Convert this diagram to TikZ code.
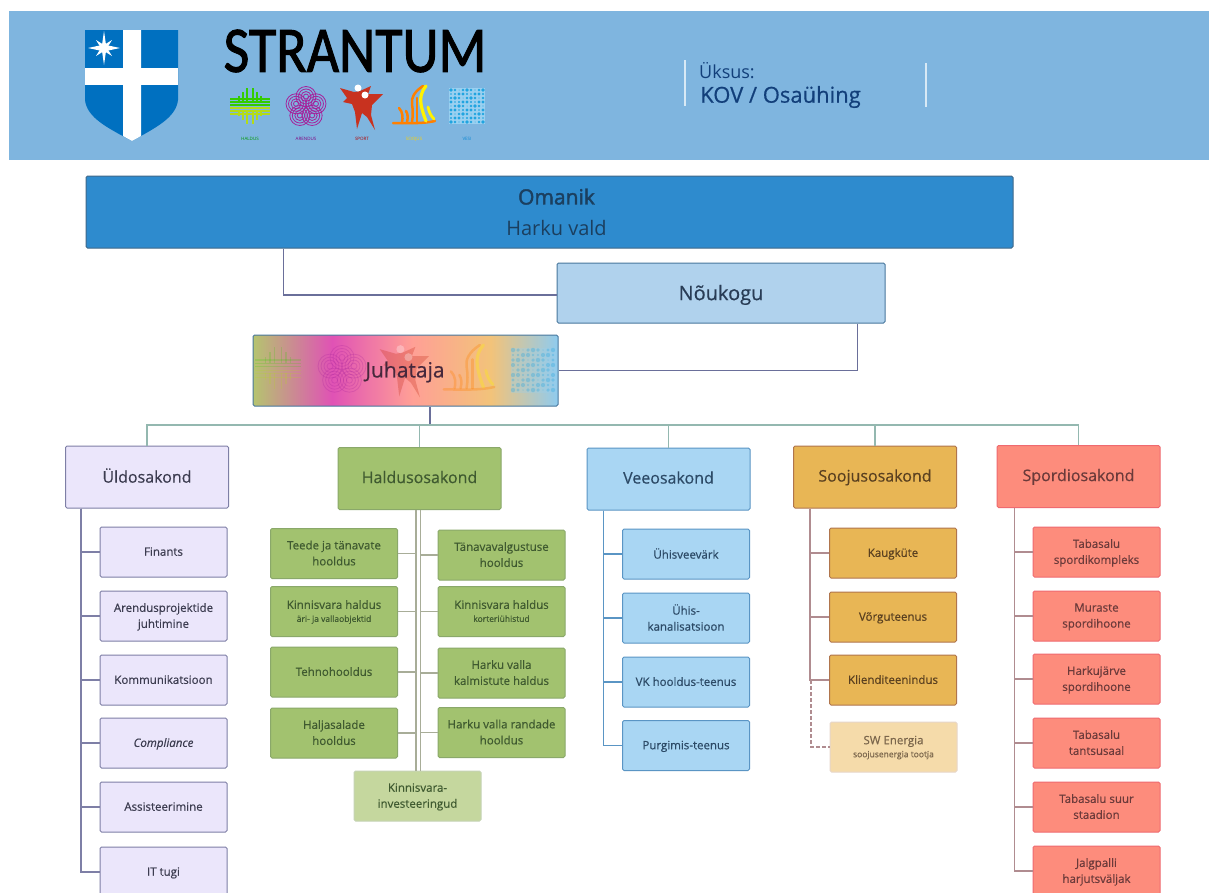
\documentclass[tikz,border=0pt]{standalone}
\usepackage{fontspec}
\setmainfont{Open Sans}[FakeBold=0.5]
\newfontfamily\plainfont{Open Sans}
\newfontfamily\raskfont{Open Sans}[FakeBold=2]
\newfontfamily\logofont{Carlito}[FakeBold=1.6]
\usepackage{tikz}
\usetikzlibrary{calc,positioning}
\usepackage{xcolor}

\definecolor{bannervarv}{HTML}{7FB5DF}
\definecolor{kilpvarv}{HTML}{0070C0}
\definecolor{uksusvarv}{HTML}{123F7A}
\definecolor{juhtgreen}{HTML}{B5C46F}
\definecolor{juhtpink}{HTML}{E052B5}
\definecolor{juhtsalmon}{HTML}{FF9F96}
\definecolor{juhtgold}{HTML}{F2C37A}
\definecolor{juhtblue}{HTML}{8FCBEF}
\pgfdeclarehorizontalshading{juhatajavarv}{100bp}{
    color(0bp)=(juhtgreen); color(25bp)=(juhtgreen); color(38bp)=(juhtpink);
    color(51bp)=(juhtsalmon); color(64bp)=(juhtgold); color(75bp)=(juhtblue);
    color(100bp)=(juhtblue)}

\definecolor{yld}{HTML}{EBE6FB}
\definecolor{yldjoon}{HTML}{7E7FA6}
\definecolor{yldtekst}{HTML}{3C3C50}
\definecolor{hald}{HTML}{A2C26F}
\definecolor{haldjoon}{HTML}{8AA86A}
\definecolor{haldtekst}{HTML}{3F5A30}
\definecolor{haldliin}{HTML}{A8AD98}
\definecolor{vesi}{HTML}{A9D6F3}
\definecolor{veejoon}{HTML}{5A95C4}
\definecolor{veetekst}{HTML}{2C4A66}
\definecolor{sooj}{HTML}{E8B655}
\definecolor{soojjoon}{HTML}{B0754D}
\definecolor{soojtekst}{HTML}{5A4020}
\definecolor{spor}{HTML}{FD8C7C}
\definecolor{sporjoon}{HTML}{EF6A70}
\definecolor{sportekst}{HTML}{6B3A3A}
\definecolor{liinvarv}{HTML}{6A6F9A}
\definecolor{roosaliin}{HTML}{B08C90}
\definecolor{busvarv}{HTML}{94B8B0}
\definecolor{omanikvarv}{HTML}{2E8BCE}
\definecolor{omaniktekst}{HTML}{1B3F5F}
\definecolor{noukoguvarv}{HTML}{B0D2ED}
\definecolor{noukogutekst}{HTML}{283C55}
\definecolor{investvarv}{HTML}{C5D79E}
\definecolor{swvarv}{HTML}{F5DBAA}

\tikzset{
    x=1pt, y=-1pt,
    kast/.style={draw, rounded corners=1.5pt, line width=1pt, align=center, inner sep=0pt, text depth=1pt, font=\fontsize{11.5}{16}\selectfont},
    osakond/.style={kast, text depth=3pt, minimum width=163pt, minimum height=62pt, font=\fontsize{16}{20}\selectfont},
    alam/.style={kast, minimum width=127pt, minimum height=50pt},
    yldvarv/.style={fill=yld, draw=yldjoon, text=yldtekst},
    haldvarv/.style={fill=hald, draw=haldjoon, text=haldtekst},
    veevarv/.style={fill=vesi, draw=veejoon, text=veetekst},
    soojvarv/.style={fill=sooj, draw=soojjoon, text=soojtekst},
    sporvarv/.style={fill=spor, draw=sporjoon, text=sportekst},
    liin/.style={line width=1.2pt, draw=liinvarv},
    haruliin/.style={line width=1.6pt, draw=haldliin},
    roosa/.style={line width=1.2pt, draw=roosaliin},
}
\newcommand{\alla}{\fontsize{8.5}{10}\selectfont}

% Logo pictures, drawn around their own centre
\newcommand{\iconhaldus}[1]{
    \begin{scope}[#1, line width=1.2pt]
        \foreach \a in {3,7,11} {
            \draw[green!60!olive] (-\a,-4) -- (-\a,-21+\a);
            \draw[green!60!olive] (\a,-4) -- (\a,-21+\a);
            \draw[yellow!70!green] (-\a,4) -- (-\a,21-\a);
            \draw[yellow!70!green] (\a,4) -- (\a,21-\a);
        }
        \foreach \a in {1,4,7} {
            \draw[green!60!olive] (-20,-\a) -- (20,-\a);
            \draw[yellow!70!green] (-20,\a+1) -- (20,\a+1);
        }
    \end{scope}
}
\definecolor{lillvarv}{HTML}{A5229B}
\newcommand{\iconareng}[1]{
    \begin{scope}[#1, line width=0.8pt]
        \foreach \a in {-90,-18,54,126,198} {
            \foreach \r in {2.5,5,7.5,10} {
                \draw[lillvarv] (\a:10.5) circle (\r);
            }
        }
    \end{scope}
}
\definecolor{sportvarv}{HTML}{C8321F}
\newcommand{\iconsport}[1]{
    \begin{scope}[#1]
        \fill[sportvarv] (-22,-19) -- (-8,-15) -- (-2,-16) -- (9,-21) -- (6,-13) -- (21,-13) -- (10,-2) -- (9,8) -- (13,23) -- (5,10) -- (0,6) -- (-5,22) -- (-7,5) -- (-10,-3) -- (-19,-5) -- (-15,-9) -- cycle;
        \fill[white] (-4,-19) circle (3.5) (3,-12) circle (3.5);
    \end{scope}
}
\newcommand{\iconsoojus}[1]{
    \begin{scope}[#1, line cap=round]
        \draw[orange, line width=2.5pt] (-21,17) .. controls (-8,17) and (8,18) .. (21,15);
        \draw[orange, line width=2.5pt] (-15,2) .. controls (-11,6) and (-11,12) .. (-12,16);
        \draw[orange, line width=2.5pt] (-8,5) .. controls (-6,8) and (-6,12) .. (-7,16);
        \draw[orange, line width=2.5pt] (9,-20) .. controls (0,-14) and (-3,-8) .. (-2,-2) .. controls (-1,4) and (-1,10) .. (-2,16);
        \draw[orange, line width=2.5pt] (3,-8) -- (3,16);
        \draw[yellow, line width=3.2pt] (12,-20) .. controls (7,-14) and (6,-8) .. (7,-2) .. controls (8,4) and (10,10) .. (12,15);
        \draw[yellow, line width=2.8pt] (14,1) .. controls (15,6) and (17,10) .. (20,13);
    \end{scope}
}
\definecolor{piskvarv}{HTML}{9AD0F0}
\definecolor{tilkvarv}{HTML}{20A4E0}
\newcommand{\iconvesi}[1]{
    \begin{scope}[#1]
        \fill[piskvarv] (-18,-18) rectangle (18,18);
        \foreach \i in {-16,-12,...,16} {
            \foreach \j in {-16,-12,...,16} {
                \pgfmathsetmacro{\r}{0.5+1.3*abs(sin(\i*11+\j*17))}
                \fill[tilkvarv] (\i,\j) circle (\r);
            }
        }
    \end{scope}
}

\begin{document}
\begin{tikzpicture}
    \useasboundingbox (0,0) rectangle (1209,892);
    \clip (0,0) rectangle (1209,892);
    \fill[white] (0,0) rectangle (1209,892);

    % Banner
    \fill[bannervarv] (9,11) rectangle (1209,160);
    \fill[kilpvarv] (85,30) -- (178,30) -- (178,100) .. controls (176,118) and (155,128) .. (132,141) .. controls (108,128) and (87,118) .. (85,100) -- cycle;
    \fill[white] (123,30) -- (141,30) -- (141,136) -- (132,141) -- (123,136) -- cycle;
    \fill[white] (85,68) rectangle (178,85);
    \begin{scope}[shift={(104,48)}]
        \fill[white] (0,-17) -- (2,-3) -- (16,0) -- (2,3) -- (0,17) -- (-2,3) -- (-16,0) -- (-2,-3) -- cycle;
        \fill[white] (-8,-8) -- (0,-3) -- (8,-8) -- (3,0) -- (8,8) -- (0,3) -- (-8,8) -- (-3,0) -- cycle;
    \end{scope}
    \node[font=\logofont\fontsize{56}{56}\selectfont, text=black, inner sep=0pt] (logo) at (355,51) {\scalebox{1}[1.16]{STRANTUM}};
    \iconhaldus{shift={(250,106)}}
    \iconareng{shift={(306,107)}}
    \iconsport{shift={(362,107)}}
    \iconsoojus{shift={(414,106)}}
    \iconvesi{shift={(467,106)}}
    \foreach \x/\t/\c in {250/HALDUS/green!60!black, 306/ARENDUS/violet, 362/SPORT/red!70!black, 414/SOOJUS/yellow!70!orange, 467/VESI/cyan!70!blue} {
        \node[font=\plainfont\fontsize{4.5}{5}\selectfont, text=\c, inner sep=0pt] (m\t) at (\x,139) {\t};
    }
    \draw[white!70!bannervarv, line width=1.2pt] (685,60) -- (685,106);
    \draw[white!70!bannervarv, line width=1.2pt] (926,63) -- (926,107);
    \node[anchor=west, text=uksusvarv, font=\plainfont\fontsize{18}{20}\selectfont, inner sep=0pt] (uksus) at (699,71) {Üksus:};
    \node[anchor=west, text=uksusvarv, font=\fontsize{22}{24}\selectfont, inner sep=0pt] (kov) at (700,97) {KOV / Osaühing};

    % Top of the tree
    \node[kast, text depth=0pt, fill=omanikvarv, draw=veejoon!70!black, minimum width=927pt, minimum height=72pt, font=\plainfont\fontsize{20}{31}\selectfont, text=omaniktekst] (omanik) at (549.5,212) {\hspace*{14pt}{\raskfont\fontsize{21}{31}\selectfont Omanik}\\\hspace*{14pt}Harku vald};
    \node[kast, fill=noukoguvarv, draw=veejoon!80!black, minimum width=328pt, minimum height=60pt, font=\fontsize{20}{24}\selectfont, text=noukogutekst] (noukogu) at (721,293) {Nõukogu};
    \node[kast, shade, shading=juhatajavarv, draw=veejoon!80!black, minimum width=305pt, minimum height=71pt] (juhataja) at (405.5,370.5) {};
    \iconhaldus{shift={(278,368)}, scale=1.15, opacity=.2}
    \iconareng{shift={(342,370)}, scale=1.2, opacity=.25}
    \iconsport{shift={(405,371)}, scale=1.15, opacity=.3}
    \iconsoojus{shift={(469,369)}, scale=1.2, opacity=.3}
    \iconvesi{shift={(533,370)}, scale=1.25, opacity=.3}
    \node[font=\fontsize{21}{24}\selectfont, text={rgb,255:red,70;green,40;blue,60}, inner sep=0pt] (juhtekst) at (405,372) {Juhataja};
    \draw[liin] ($(omanik.south west)+(198,0)$) |- ($(noukogu.west)+(0,2)$);
    \draw[liin] ($(noukogu.south west)+(301,0)$) |- (juhataja.east);

    % Departments
    \node[osakond, yldvarv] (yldo) at (147,477) {Üldosakond};
    \node[osakond, haldvarv] (haldo) at (419.5,478.5) {Haldusosakond};
    \node[osakond, veevarv] (veeo) at (668.5,479) {Veeosakond};
    \node[osakond, soojvarv] (soojo) at (875,477) {Soojusosakond};
    \node[osakond, sporvarv] (sporo) at (1078.5,476.5) {Spordiosakond};
    \coordinate (bus) at (430,425);
    \draw[liin] (juhataja.south -| bus) -- (bus);
    \foreach \o in {yldo,haldo,veeo,soojo,sporo} {
        \draw[line width=1.2pt, draw=busvarv] (\o.north) |- (bus);
    }

    % Uldosakond
    \foreach \i/\y/\t in {1/552/Finants, 2/616/{Arendusprojektide\\juhtimine}, 3/680/Kommunikatsioon, 4/743/{\textit{Compliance}}, 5/807/Assisteerimine, 6/872/IT tugi} {
        \node[alam, yldvarv] (u\i) at (163.5,\y) {\t};
        \draw[line width=1.2pt, draw=yldjoon] ($(yldo.south west)+(16,0)$) |- (u\i.west);
    }

    % Haldusosakond, both sides of a double line
    \node[alam, fill=investvarv, draw=haldjoon!50, text=haldtekst] (hinv) at (417.5,796) {Kinnisvara-\\investeeringud};
    \draw[haruliin] ($(haldo.south)+(-3.5,0)$) -- ($(hinv.north)+(-1.5,0)$);
    \draw[haruliin] ($(haldo.south)+(1,0)$) -- ($(hinv.north)+(3,0)$);
    \foreach \i/\y/\t in {1/553.5/{Teede ja tänavate\\hooldus}, 2/611.5/{Kinnisvara haldus\\[-3pt]{\alla äri- ja vallaobjektid}}, 3/672/Tehnohooldus, 4/733/{Haljasalade\\hooldus}} {
        \node[alam, haldvarv] (hv\i) at (334,\y) {\t};
        \draw[haruliin] (hv\i.east) -- (416,\y);
    }
    \foreach \i/\y/\t in {1/555/{Tänavavalgustuse\\hooldus}, 2/611.5/{Kinnisvara haldus\\[-3pt]{\alla korteriühistud}}, 3/673/{Harku valla\\kalmistute haldus}, 4/732.5/{Harku valla randade\\hooldus}} {
        \node[alam, haldvarv] (hp\i) at (501.5,\y) {\t};
        \draw[haruliin] (hp\i.west) -- (420.5,\y);
    }

    % Veeosakond
    \foreach \i/\y/\t in {1/554/Ühisveevärk, 2/618/{Ühis-\\kanalisatsioon}, 3/682/VK hooldus-teenus, 4/745.5/Purgimis-teenus} {
        \node[alam, veevarv] (v\i) at (686,\y) {\t};
        \draw[line width=1.2pt, draw=veejoon] ($(veeo.south west)+(17,0)$) |- (v\i.west);
    }

    % Soojusosakond
    \foreach \i/\y/\t in {1/553/Kaugküte, 2/617/Võrguteenus, 3/680/Klienditeenindus} {
        \node[alam, soojvarv] (s\i) at (893,\y) {\t};
        \draw[roosa] ($(soojo.south west)+(17,0)$) |- (s\i.west);
    }
    \node[alam, fill=swvarv, draw=soojjoon!30!white, text=soojtekst!80!white] (s4) at (893.5,747) {SW Energia\\[-3pt]{\alla soojusenergia tootja}};
    \draw[roosa, dash pattern=on 4pt off 2pt] (s3.west -| 811,0) |- (s4.west);

    % Spordiosakond
    \foreach \i/\y/\t in {1/552/{Tabasalu\\spordikompleks}, 2/616/{Muraste\\spordihoone}, 3/679/{Harkujärve\\spordihoone}, 4/743/{Tabasalu\\tantsusaal}, 5/807/{Tabasalu suur\\staadion}, 6/871/{Jalgpalli\\harjutsväljak}} {
        \node[alam, sporvarv] (p\i) at (1096.5,\y) {\t};
        \draw[roosa] ($(sporo.south west)+(18,0)$) |- (p\i.west);
    }
\end{tikzpicture}
\end{document}
